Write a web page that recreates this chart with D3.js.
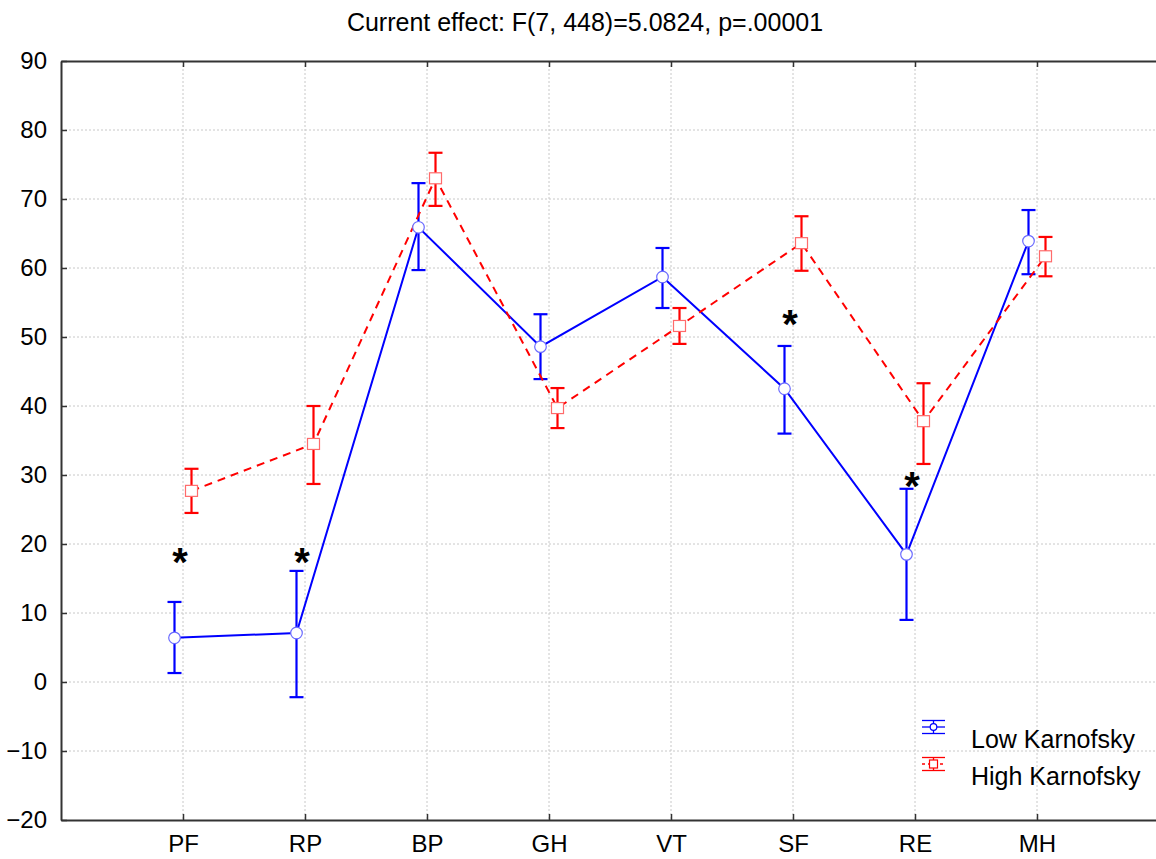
<!DOCTYPE html>
<html>
<head>
<meta charset="utf-8">
<script src="https://cdn.jsdelivr.net/npm/d3@7"></script>
<style>
  body { margin: 0; background: #fff; }
  text { font-family: "Liberation Sans", Arial, sans-serif; }
</style>
</head>
<body>
<div id="chart-area"></div>
<script>
// data
const categories = ['PF', 'RP', 'BP', 'GH', 'VT', 'SF', 'RE', 'MH']
const lowMean = [6.4, 7.1, 65.9, 48.6, 58.7, 42.5, 18.5, 63.9]
const lowUpper = [11.6, 16.1, 72.3, 53.3, 62.9, 48.7, 28.0, 68.4]
const lowLower = [1.3, -2.2, 59.7, 43.9, 54.2, 36.0, 9.0, 59.1]
const highMean = [27.7, 34.5, 73.0, 39.7, 51.6, 63.6, 37.8, 61.7]
const highUpper = [30.9, 40.0, 76.7, 42.6, 54.2, 67.5, 43.3, 64.5]
const highLower = [24.5, 28.7, 69.0, 36.8, 49.0, 59.6, 31.6, 58.8]
const starCats = ['PF', 'RP', 'SF', 'RE']
const starValues = [18.5, 18.5, 53.0, 29.5]
const yTicks = [-20, -10, 0, 10, 20, 30, 40, 50, 60, 70, 80, 90]
const seriesNames = ['Low Karnofsky', 'High Karnofsky']
const title = 'Current effect: F(7, 448)=5.0824, p=.00001'

const margin = { left: 61, top: 61, right: -3, bottom: 39 }
const W = 1156, H = 859
const width = W - margin.left - margin.right
const height = H - margin.top - margin.bottom

const svg = d3.select('#chart-area').append('svg')
  .attr('width', W)
  .attr('height', H)

const g = svg.append('g')
  .attr('transform', `translate(${margin.left},${margin.top})`)

const x = d3.scalePoint()
  .domain(categories)
  .range([0, width])
  .padding(1)

const y = d3.scaleLinear()
  .domain([-20, 90])
  .range([height, 0])

const off = 8.5

// grid
g.append('g').selectAll('line.hg').data(yTicks.slice(1, -1)).enter()
  .append('line')
  .attr('x1', 0).attr('x2', width)
  .attr('y1', d => y(d)).attr('y2', d => y(d))
  .attr('stroke', '#c8c8c8').attr('stroke-width', 1)
  .attr('stroke-dasharray', '2,2')
g.append('g').selectAll('line.vg').data(categories).enter()
  .append('line')
  .attr('x1', d => x(d)).attr('x2', d => x(d))
  .attr('y1', 0).attr('y2', height)
  .attr('stroke', '#c8c8c8').attr('stroke-width', 1)
  .attr('stroke-dasharray', '2,2')

// axes
const axisLeft = d3.axisLeft(y).tickValues(yTicks).tickSizeInner(-6).tickSizeOuter(0).tickPadding(14)
const axisBottom = d3.axisBottom(x).tickSizeInner(-6).tickSizeOuter(0).tickPadding(15)
const axisTop = d3.axisTop(x).tickSizeInner(-6).tickSizeOuter(0).tickFormat('')

g.append('g').attr('class', 'y-axis').call(axisLeft)
g.append('g').attr('class', 'x-axis').attr('transform', `translate(0,${height})`).call(axisBottom)
g.append('g').attr('class', 'top-axis').call(axisTop)

g.selectAll('.domain').attr('stroke', '#333').attr('stroke-width', 2)
g.selectAll('.tick line').attr('stroke', '#333').attr('stroke-width', 1.5)
g.selectAll('.y-axis, .x-axis').attr('font-size', 24)
g.selectAll('.tick text').attr('fill', '#000')
  .style('font-family', '"Liberation Sans", Arial, sans-serif')

// title
svg.append('text')
  .attr('x', 585).attr('y', 31)
  .attr('text-anchor', 'middle')
  .attr('font-size', '25px')
  .text(title)

const series = [
  { name: seriesNames[0], mean: lowMean, up: lowUpper, lo: lowLower, dx: -off,
    color: '#0000ff', mark: '#6b6bff', dash: null },
  { name: seriesNames[1], mean: highMean, up: highUpper, lo: highLower, dx: off,
    color: '#ff0000', mark: '#ff6b6b', dash: '8,6' }
]

const line = d3.line()

series.forEach(s => {
  const pts = categories.map((c, i) => [x(c) + s.dx, y(s.mean[i])])
  g.append('path')
    .attr('d', line(pts))
    .attr('fill', 'none')
    .attr('stroke', s.color)
    .attr('stroke-width', 2)
    .attr('stroke-dasharray', s.dash)

  const eb = g.append('g')
  categories.forEach((c, i) => {
    const cx = x(c) + s.dx
    eb.append('line')
      .attr('x1', cx).attr('x2', cx)
      .attr('y1', y(s.up[i])).attr('y2', y(s.lo[i]))
      .attr('stroke', s.color).attr('stroke-width', 2.2)
    ;[s.up[i], s.lo[i]].forEach(v => {
      eb.append('line')
        .attr('x1', cx - 7).attr('x2', cx + 7)
        .attr('y1', y(v)).attr('y2', y(v))
        .attr('stroke', s.color).attr('stroke-width', 2.2)
    })
  })
})

// markers
series.forEach((s, k) => {
  categories.forEach((c, i) => {
    const cx = x(c) + s.dx, cy = y(s.mean[i])
    if (k === 0) {
      g.append('circle')
        .attr('cx', cx).attr('cy', cy).attr('r', 5.8)
        .attr('fill', '#fff').attr('stroke', s.mark).attr('stroke-width', 1.2)
    } else {
      g.append('rect')
        .attr('x', cx - 6).attr('y', cy - 5.5)
        .attr('width', 12).attr('height', 11)
        .attr('fill', '#fff').attr('stroke', s.mark).attr('stroke-width', 1.2)
    }
  })
})

// significance stars
g.selectAll('text.star').data(starCats).enter()
  .append('text')
  .attr('class', 'star')
  .attr('x', d => x(d) - 3)
  .attr('y', (d, i) => y(starValues[i]) + 22)
  .attr('text-anchor', 'middle')
  .attr('font-size', '40px')
  .attr('font-weight', 'bold')
  .text('*')

// legend
const legend = svg.append('g')
series.forEach((s, k) => {
  const cy = 727 + k * 37
  const lg = legend.append('g')
  lg.append('line').attr('x1', 922).attr('x2', 945).attr('y1', cy - 6.5).attr('y2', cy - 6.5)
    .attr('stroke', s.color).attr('stroke-width', 1.3)
  lg.append('line').attr('x1', 922).attr('x2', 945).attr('y1', cy + 6.5).attr('y2', cy + 6.5)
    .attr('stroke', s.color).attr('stroke-width', 1.3)
  lg.append('line').attr('x1', 922).attr('x2', 945).attr('y1', cy).attr('y2', cy)
    .attr('stroke', s.color).attr('stroke-width', 1.3).attr('stroke-dasharray', s.dash ? '3,3' : null)
  lg.append('line').attr('x1', 933.5).attr('x2', 933.5).attr('y1', cy - 6.5).attr('y2', cy + 6.5)
    .attr('stroke', s.color).attr('stroke-width', 1.3)
  if (k === 0) {
    lg.append('circle').attr('cx', 933.5).attr('cy', cy).attr('r', 3.3)
      .attr('fill', '#fff').attr('stroke', s.color).attr('stroke-width', 1.2)
  } else {
    lg.append('rect').attr('x', 929.5).attr('y', cy - 4).attr('width', 8).attr('height', 8)
      .attr('fill', '#fff').attr('stroke', s.color).attr('stroke-width', 1.2)
  }
  lg.append('text')
    .attr('x', 971).attr('y', cy + 21)
    .attr('font-size', '25px')
    .text(s.name)
})
</script>
</body>
</html>
